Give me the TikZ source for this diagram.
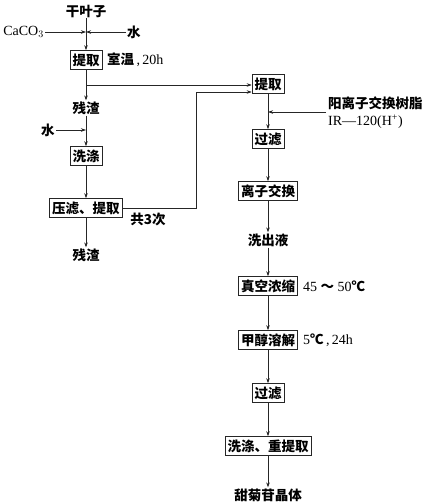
\documentclass[tikz,border=0pt]{standalone}
\usepackage{fontspec}
\setmainfont{Liberation Serif}
\newfontfamily\cjk{Noto Sans CJK SC}
\newcommand\zh{\cjk\bfseries\fontsize{13.5}{15}\selectfont}
\usetikzlibrary{arrows.meta}

\begin{document}
\begin{tikzpicture}[x=1pt,y=-1pt,
  box/.style={draw,black!85,text=black,line width=0.6pt,inner sep=2.5pt,minimum height=19pt,font=\zh},
  lbl/.style={font=\zh,inner sep=1pt},
  note/.style={anchor=west,inner sep=1pt,font=\fontsize{14}{16}\selectfont},
  flow/.style={-{Stealth[length=5pt,width=3.5pt]},black!85,line width=0.6pt},
  line/.style={black!85,line width=0.6pt}]
  \useasboundingbox (0,0) rectangle (430,504);
  % left column
  \node[lbl] (gan) at (86,11) {干叶子};
  \node[note,anchor=east] (caco) at (45,32) {CaCO$_3$};
  \node[lbl,anchor=west] (shui1) at (126,32) {水};
  \coordinate (jn1) at (86,32);
  \node[box] (tiqu1) at (86,60) {提取};
  \node[note] at (106,60) {{\zh 室温}\,,\,20h};
  \coordinate (b1) at (86,85);
  \node[lbl] (zha1) at (86,108) {残渣};
  \node[lbl] (shui2) at (48,130) {水};
  \coordinate (jn2) at (86,130);
  \node[box] (xidi1) at (86,156) {洗涤};
  \node[box] (yalv) at (86,208) {压滤、提取};
  \node[lbl] at (148,219) {共3次};
  \node[lbl] (zha2) at (86,255) {残渣};
  % right column
  \node[box] (tiqu2) at (268,84) {提取};
  \node[lbl,anchor=west] (resin) at (327,103) {阳离子交换树脂};
  \node[note] at (327,122) {IR—120(H\textsuperscript{+})};
  \coordinate (r0) at (326,112);
  \coordinate (jn3) at (268,112);
  \node[box] (guolv1) at (268,139) {过滤};
  \node[box] (lizi) at (268,191) {离子交换};
  \node[lbl] (xichu) at (268,240) {洗出液};
  \node[box] (zhenkong) at (268,286) {真空浓缩};
  \node[note] at (302,286) {45 {\zh ～} 50{\zh ℃}};
  \node[box] (jiachun) at (268,340) {甲醇溶解};
  \node[note] at (302,340) {5{\zh ℃}\,,\,24h};
  \node[box] (guolv2) at (268,393) {过滤};
  \node[box] (xidi2) at (268,446) {洗涤、重提取};
  \node[lbl] (jing) at (268,495) {甜菊苷晶体};
  % feeds
  \draw[line] (gan) -- (jn1);
  \draw[flow] (caco) -- (jn1);
  \draw[flow] (shui1) -- (jn1);
  \draw[flow] (jn1) -- (tiqu1);
  \draw[flow] (tiqu1) -- (zha1);
  \draw[flow] (b1) -- (b1 -| tiqu2.west);
  \draw[line] (zha1) -- (jn2);
  \draw[flow] (shui2) -- (jn2);
  \draw[flow] (jn2) -- (xidi1);
  \draw[flow] (xidi1) -- (yalv);
  \draw[flow] (yalv) -- (zha2);
  % recycle 3 times
  \coordinate (c1) at (196,208);
  \coordinate (c2) at (196,92);
  \draw[flow] (yalv.east) -- (c1) -- (c2) -- (c2 -| tiqu2.west);
  \draw[line] (tiqu2) -- (jn3);
  \draw[flow] (r0) -- (jn3);
  \draw[flow] (jn3) -- (guolv1);
  \foreach \a/\b in {guolv1/lizi, lizi/xichu, xichu/zhenkong, zhenkong/jiachun,
                     jiachun/guolv2, guolv2/xidi2, xidi2/jing}
    \draw[flow] (\a) -- (\b);
\end{tikzpicture}
\end{document}
